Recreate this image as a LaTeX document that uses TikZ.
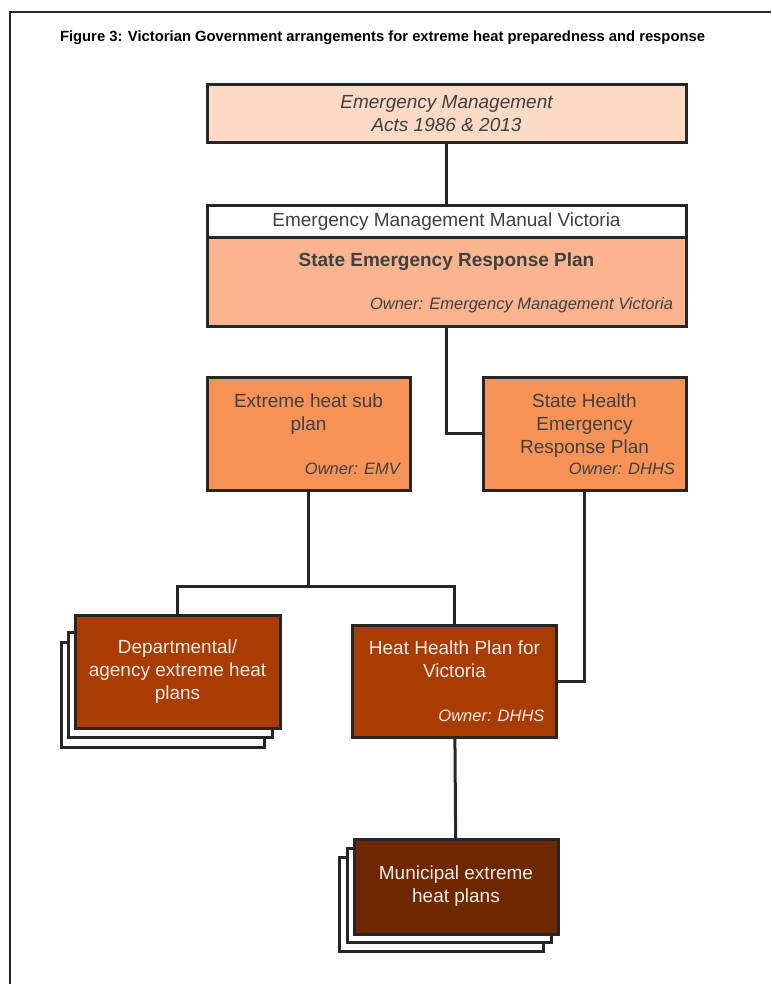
\documentclass[tikz,border=0pt]{standalone}
\usepackage{fontspec}
\setmainfont{Liberation Sans}
\usepackage{xcolor}
\usepackage{tikz}
\usetikzlibrary{positioning}

\definecolor{edgegray}{HTML}{262626}
\definecolor{txtgray}{HTML}{404040}
\definecolor{paletext}{HTML}{F6ECE4}
\definecolor{actsfill}{HTML}{FCDAC6}
\definecolor{serpfill}{HTML}{FAB48F}
\definecolor{midorange}{HTML}{F89357}
\definecolor{rust}{HTML}{A83C02}
\definecolor{darkrust}{HTML}{6E2800}

\begin{document}
\begin{tikzpicture}[x=1pt, y=-1pt, every node/.style={inner sep=0pt, outer sep=0pt, align=center, text=txtgray, font=\fontsize{19}{23}\selectfont},
  plan/.style={draw=edgegray, line width=3pt, minimum width=203pt, minimum height=113pt},
  owner/.style={font=\fontsize{16.5}{20}\selectfont\itshape},
  link/.style={draw=edgegray, line width=3pt, line join=miter}]
\useasboundingbox (0,0) rectangle (771,984);
\draw[edgegray, line width=2.5pt] (10,984) -- (10,12) -- (771,12);
\node[anchor=west, text=black, font=\bfseries\fontsize{14.8}{17}\selectfont] (title) at (60,38) {Figure 3: Victorian Government arrangements for extreme heat preparedness and response};

\node[plan, fill=actsfill, minimum width=479pt, minimum height=58pt, font=\itshape\fontsize{19}{23}\selectfont] (acts) at (446.5,114) {Emergency Management\\Acts 1986 \& 2013};
\node[plan, fill=white, minimum width=479pt, minimum height=32pt, below=63pt of acts] (manual) {Emergency Management Manual Victoria};
\node[plan, fill=serpfill, minimum width=479pt, minimum height=88pt, below=0pt of manual] (serp) {};
\node[font=\bfseries\fontsize{19}{23}\selectfont, below=15pt of serp.north] (serpname) {State Emergency Response Plan};
\node[owner, above left=13pt and 13pt of serp.south east] (serpown) {Owner: Emergency Management Victoria};

\node[plan, fill=midorange, below right=51pt and 0pt of serp.south west] (ehsp) {};
\node[below=17pt of ehsp.north] (ehspname) {Extreme heat sub\\plan};
\node[owner, above left=15pt and 10pt of ehsp.south east] (ehspown) {Owner: EMV};

\node[plan, fill=midorange, below left=51pt and 0pt of serp.south east] (sherp) {};
\node[below=17pt of sherp.north] (sherpname) {State Health\\Emergency\\Response Plan};
\node[owner, above left=15pt and 11pt of sherp.south east] (sherpown) {Owner: DHHS};

% stacked copies behind the plan sets
\foreach \l/\t/\r/\b in {61/642/264/747, 68/632/272/737}
  \draw[edgegray, line width=3pt, fill=white] (\l,\t) rectangle (\r,\b);
\node[plan, fill=rust, minimum width=205pt, text=paletext] (dept) at (177.5,671.5) {Departmental/\\agency extreme heat\\plans};

\node[plan, fill=rust, minimum width=204pt, minimum height=112pt] (hhp) at (454.5,681) {};
\node[below=16pt of hhp.north, text=paletext] (hhpname) {Heat Health Plan for\\Victoria};
\node[owner, text=paletext, above left=15pt and 12pt of hhp.south east] (hhpown) {Owner: DHHS};

\foreach \l/\t/\r/\b in {339/857/543/951, 347/848/551/942}
  \draw[edgegray, line width=3pt, fill=white] (\l,\t) rectangle (\r,\b);
\node[plan, fill=darkrust, minimum width=204pt, minimum height=95pt, text=paletext] (muni) at (456,886.5) {Municipal extreme\\heat plans};

\draw[link] (acts) -- (manual);
\draw[link] (serp) |- (sherp);
\draw[link] (ehsp.south) -- ++(0,96) coordinate (split);
\draw[link] (dept.north) |- (split) -| (hhp.north);
\draw[link] (sherp) |- (hhp);
\draw[link] (hhp) -- (muni);
\end{tikzpicture}
\end{document}
